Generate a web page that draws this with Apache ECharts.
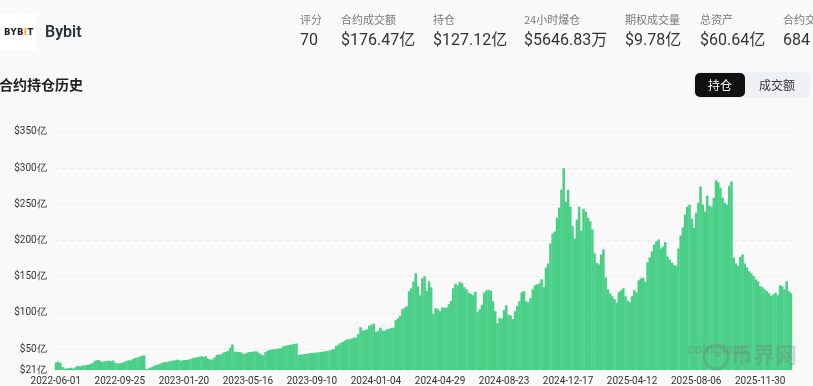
<!DOCTYPE html>
<html><head><meta charset="utf-8">
<script src="https://cdn.jsdelivr.net/npm/echarts@6/dist/echarts.min.js"></script>
<style>
html,body{margin:0;padding:0;width:813px;height:386px;overflow:hidden;background:#f9f9f9;font-family:Roboto,"Noto Sans CJK SC",sans-serif;}
#chart{position:absolute;left:0;top:0;width:813px;height:386px;}
.abs{position:absolute;white-space:nowrap;}
.lbl{font-size:11px;line-height:12px;color:#7a7a7a;top:13px;font-family:"Noto Sans CJK SC",Roboto,sans-serif;}
.val{font-size:16px;line-height:18px;color:#333;top:31px;font-family:Roboto,"Noto Sans CJK SC",sans-serif;}
</style></head><body>
<div id="chart"></div>
<div class="abs" style="left:0;top:14px;width:37px;height:37px;background:#fff;"></div>
<div class="abs" style="left:4px;top:27px;font-size:8.5px;line-height:10px;font-weight:bold;color:#222;letter-spacing:0.4px;font-family:'DejaVu Sans',sans-serif;">BYB<span style="color:#f7a600">I</span>T</div>
<div class="abs" style="left:45px;top:22px;font-size:16px;line-height:20px;font-weight:600;color:#2b2f36;">Bybit</div>
<div id="stats"></div>
<div class="abs" style="left:-1px;top:75px;font-size:14px;line-height:18px;font-weight:bold;color:#222;font-family:'Noto Sans CJK SC',sans-serif;">合约持仓历史</div>
<div class="abs" style="left:693px;top:72px;width:117px;height:26px;background:#eef0f3;border-radius:5px;"></div>
<div class="abs" style="left:695px;top:73px;width:50px;height:24px;background:#111;border-radius:5px;color:#fff;font-size:12px;line-height:24px;text-align:center;font-family:'Noto Sans CJK SC',sans-serif;">持仓</div>
<div class="abs" style="left:746px;top:73px;width:62px;height:24px;color:#333;font-size:12px;line-height:24px;text-align:center;font-family:'Noto Sans CJK SC',sans-serif;">成交额</div>
<script>
// header stats
const statLabels = ['评分','合约成交额','持仓','24小时爆仓','期权成交量','总资产','合约交易对'];
const statValues = ['70','$176.47亿','$127.12亿','$5646.83万','$9.78亿','$60.64亿','684'];
const statLefts = [300,341,433,524,625,700,783];

// x-axis tick labels (every 116 days)
const tickDates = ['2022-06-01','2022-09-25','2023-01-20','2023-05-16','2023-09-10','2024-01-04',
  '2024-04-29','2024-08-23','2024-12-17','2025-04-12','2025-08-06','2025-11-30'];
const yTicks = [21,50,100,150,200,250,300,350];

// open interest (亿 USD), one value every 4 days
const openInterest = [
31.5,32.5,31,25,23,23.2,23.5,24.2,23,25,26.5,26,27.2,27.5,28,28.5,29.5,31.5,34,35,34,32,33,33.5,34,33.2,34,30.7,30,
30.3,30.7,32,33.5,34.5,34.2,36.2,37.6,38.3,39.4,40.3,41.3,22.5,23.2,24.5,25.9,27.3,28.4,29.3,30.7,31.7,31.7,32.5,33.4,33.9,34.4,35.3,34.5,33.9,
34.8,34.8,35.3,36.2,37.2,38,38.6,39.4,40,39,40,36.2,35.3,35.8,38.6,41.7,42.1,42.7,45.2,46.1,47.2,51.4,56.2,46.3,46.3,45.8,45.4,43.1,43.8,
45.4,45.8,46.3,46.8,46.6,44.5,42.4,41.3,45.8,47.9,48.6,49.3,49.7,50.3,50.7,51,53.7,54.4,55.1,55.8,56.2,56.9,57.6,41.7,42.4,42.7,43.1,43.5,44,
44.5,44.9,45.2,45.4,45.8,46.3,46.8,47.2,47.9,49,50,54.1,56.2,58.2,60,61.7,63.3,63.7,64.4,65.5,66,70.6,80.2,75.4,76.1,77.1,82.3,83.7,85,
73.4,74.8,79.5,75.4,75.4,77.2,77.8,78.9,79.6,89.9,92.6,96.1,105,107,109.1,129.8,133.9,143.5,154.5,136.6,124.3,147.6,150.4,130.2,143.5,135.3,98.1,106.4,105,
102.2,107.3,107.3,107.3,111.9,116.4,133.9,140.1,138,142.8,140.8,135.3,132.5,127.7,126.3,124.3,128.8,100.9,105,111.2,128,131.1,131.8,130.4,116,102.2,85.7,92.6,91.9,
103.6,110.5,97.4,96.1,91.2,102.2,109.5,116,128.4,129.8,116,114.6,120.1,132.5,138,139.4,140.8,146.3,135.3,162.8,168.3,195.8,209.5,212.3,231.5,245.3,270.1,300,253.5,
270.1,246.7,219.6,202.7,228.8,246.7,213.7,243.9,239.8,231.5,226.4,215.1,182,168.9,166.9,180.7,187.5,149,132.5,127,122.9,118.8,114.2,128.4,131.1,133.9,122.9,116.7,114.6,
122.9,131.1,128.4,144.9,147.6,148.6,142.8,169.6,176.5,184.8,194.4,198.9,201.3,188.9,191.6,197.6,177.9,173.8,169.2,166.2,164.6,188.9,206.8,217.8,235.7,246.7,249.4,230.2,217.4,
238.4,251.8,274.6,249.4,239.8,261.8,248,246.7,259,283.1,280.4,272.8,259,252.2,249.4,275.6,281.5,176.5,168.3,164.6,177.2,180.7,168.3,162.8,157.3,154.5,150.8,146.3,143.5,
136.6,135.3,132.5,129.8,127,123.6,125.6,127.7,124.3,138,136.6,132.5,143.5,129.8,127.1
];

// build stats header
const st = document.getElementById('stats');
statLabels.forEach((l, i) => {
  const a = document.createElement('div'); a.className = 'abs lbl'; a.style.left = statLefts[i] + 'px'; a.textContent = l; st.appendChild(a);
  const b = document.createElement('div'); b.className = 'abs val'; b.style.left = statLefts[i] + 'px'; b.textContent = statValues[i]; st.appendChild(b);
});

// categories: 29 samples per tick block (4-day steps), last block as long as the data
const categories = [];
function fmt(d){return d.toISOString().slice(0,10);}
tickDates.forEach((t, b) => {
  const start = new Date(t + 'T00:00:00Z');
  const n = b < tickDates.length - 1 ? 29 : openInterest.length - 29 * (tickDates.length - 1);
  for (let k = 0; k < n; k++) {
    const d = new Date(start.getTime() + k * 4 * 86400000);
    categories.push(fmt(d));
  }
});

const chart = echarts.init(document.getElementById('chart'), null, {renderer: 'canvas'});
chart.setOption({
  animation: false,
  backgroundColor: 'transparent',
  grid: {left: 54.7, right: 20.8, top: 131.9, bottom: 14.9, containLabel: false},
  xAxis: {
    type: 'category', data: categories, boundaryGap: true,
    axisLine: {show: false}, axisTick: {show: false},
    axisLabel: {interval: 28, color: '#333', fontSize: 10, margin: 6, fontFamily: 'Roboto'},
    splitLine: {show: false}
  },
  yAxis: {
    type: 'value', min: 21, max: 350,
    axisLine: {show: false},
    axisTick: {show: false, customValues: yTicks},
    axisLabel: {customValues: yTicks, color: '#333', fontSize: 10, margin: 8, fontFamily: 'Roboto',
      formatter: v => '$' + v + '亿'},
    splitLine: {show: true, lineStyle: {color: '#e9e9e9', type: [4, 4], width: 1}}
  },
  series: [{
    type: 'bar', data: openInterest, barWidth: '115%',
    itemStyle: {color: '#4ACF87'}, silent: true
  }],
  graphic: [
    {type: 'text', z: 100, left: 687, top: 343, style: {text: 'coinglass', fontSize: 14, fontWeight: 'bold', fill: 'rgba(120,120,120,0.3)', fontFamily: 'Roboto'}},
    {type: 'circle', z: 100, shape: {cx: 716, cy: 357, r: 12}, style: {fill: 'none', stroke: 'rgba(120,120,120,0.3)', lineWidth: 3}},
    {type: 'text', z: 100, left: 731, top: 344, style: {text: '币界网', fontSize: 22, fontWeight: 'bold', fill: 'rgba(120,120,120,0.3)', fontFamily: 'Noto Sans CJK SC'}}
  ]
});
</script>
</body></html>
